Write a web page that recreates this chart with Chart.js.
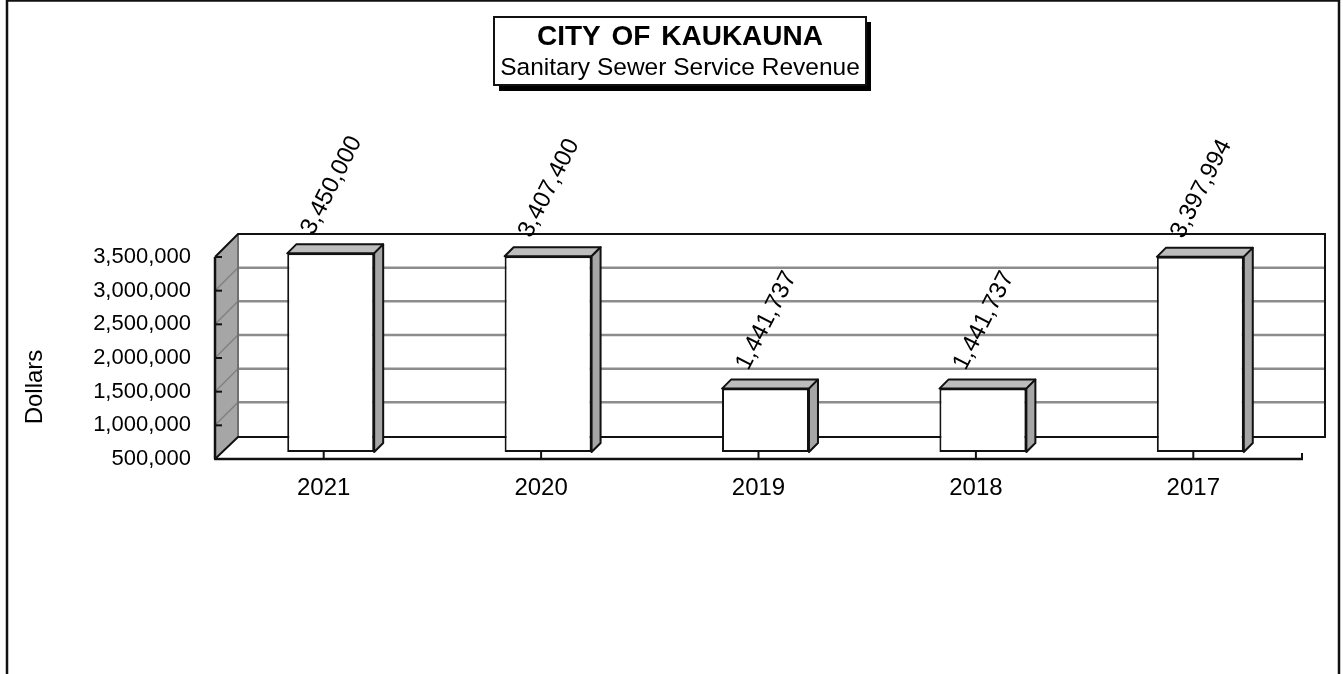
<!DOCTYPE html>
<html>
<head>
<meta charset="utf-8">
<title>City of Kaukauna</title>
<script src="https://cdn.jsdelivr.net/npm/chart.js@4"></script>
<style>
    html, body { margin: 0; padding: 0; background: #fff; overflow: hidden; }
    canvas { display: block; }
</style>
</head>
<body>
<canvas id="revenueChart" width="1343" height="674"></canvas>
<script>
const years = ['2021', '2020', '2019', '2018', '2017'];
const revenue = [3450000, 3407400, 1441737, 1441737, 3397994];
const axisMin = 500000;
const axisMax = 3500000;
const axisStep = 500000;
const titleLines = ['CITY OF KAUKAUNA', 'Sanitary Sewer Service Revenue'];
const axisTitle = 'Dollars';

const FONT = '"Liberation Sans", Arial, sans-serif';
const WALL_X = 23, WALL_Y = 22;   // depth of the back wall
const BAR_X = 7, BAR_Y = 7;       // bars sit a little behind the front edge
const BAR_DEPTH = 9;

function line(ctx, x1, y1, x2, y2, color, width) {
    ctx.strokeStyle = color;
    ctx.lineWidth = width;
    ctx.beginPath();
    ctx.moveTo(x1, y1);
    ctx.lineTo(x2, y2);
    ctx.stroke();
}

function poly(ctx, points, fill) {
    ctx.fillStyle = fill;
    ctx.strokeStyle = '#111';
    ctx.lineWidth = 2;
    ctx.lineJoin = 'round';
    ctx.beginPath();
    points.forEach((p, i) => i ? ctx.lineTo(p[0], p[1]) : ctx.moveTo(p[0], p[1]));
    ctx.closePath();
    ctx.fill();
    ctx.stroke();
}

// frame, title box, walls and gridlines go under the bars
const backdrop = {
    id: 'backdrop',
    beforeDatasetsDraw(chart) {
        const ctx = chart.ctx;
        const area = chart.chartArea;
        const y = chart.scales.y;
        const x = chart.scales.x;
        ctx.save();

        // outer frame, cut off at the bottom of the page
        ctx.strokeStyle = '#111';
        ctx.lineWidth = 2.5;
        ctx.beginPath();
        ctx.moveTo(7, 674);
        ctx.lineTo(7, 0.5);
        ctx.lineTo(1339, 0.5);
        ctx.lineTo(1339, 674);
        ctx.stroke();

        // title box with its drop shadow
        ctx.fillStyle = '#000';
        ctx.fillRect(499, 22, 372, 69);
        ctx.fillStyle = '#fff';
        ctx.fillRect(494, 17, 372, 68);
        ctx.strokeStyle = '#111';
        ctx.lineWidth = 2;
        ctx.strokeRect(494, 17, 372, 68);
        ctx.fillStyle = '#000';
        ctx.textAlign = 'center';
        ctx.textBaseline = 'middle';
        ctx.font = 'bold 28px ' + FONT;
        ctx.wordSpacing = '3px';
        ctx.fillText(titleLines[0], 680, 37);
        ctx.wordSpacing = '0px';
        ctx.font = '24.5px ' + FONT;
        ctx.fillText(titleLines[1], 680, 68);

        // left side wall
        ctx.fillStyle = '#a6a6a6';
        ctx.beginPath();
        ctx.moveTo(area.left, area.top);
        ctx.lineTo(area.left + WALL_X, area.top - WALL_Y - 1);
        ctx.lineTo(area.left + WALL_X, area.bottom - WALL_Y);
        ctx.lineTo(area.left, area.bottom);
        ctx.closePath();
        ctx.fill();

        // gridlines run across the side wall and the back wall
        y.ticks.forEach(t => {
            if (t.value === axisMin || t.value === axisMax) return;
            const py = y.getPixelForValue(t.value);
            line(ctx, area.left, py, area.left + WALL_X, py - WALL_Y - 1, '#808080', 1.5);
            line(ctx, area.left + WALL_X, py - WALL_Y - 1, area.right + WALL_X, py - WALL_Y - 1, '#8c8c8c', 2.5);
        });
        line(ctx, area.left + WALL_X, area.top - WALL_Y - 1, area.left + WALL_X, area.bottom - WALL_Y, '#707070', 2);

        // back wall outline
        ctx.strokeStyle = '#111';
        ctx.lineWidth = 2;
        ctx.beginPath();
        ctx.moveTo(area.left, area.top);
        ctx.lineTo(area.left + WALL_X, area.top - WALL_Y - 1);
        ctx.lineTo(area.right + WALL_X, area.top - WALL_Y - 1);
        ctx.lineTo(area.right + WALL_X, area.bottom - WALL_Y);
        ctx.lineTo(area.left + WALL_X, area.bottom - WALL_Y);
        ctx.lineTo(area.left, area.bottom);
        ctx.stroke();

        // front axis lines and ticks
        line(ctx, area.left, area.top, area.left, area.bottom, '#111', 2.5);
        line(ctx, area.left - 1, area.bottom, area.right + 1, area.bottom, '#111', 2.5);
        y.ticks.forEach(t => {
            const py = y.getPixelForValue(t.value);
            line(ctx, area.left, py, area.left + 7, py, '#111', 2);
        });
        x.ticks.forEach((t, i) => {
            const px = x.getPixelForTick(i);
            line(ctx, px, area.bottom, px, area.bottom - 7, '#111', 2);
        });
        line(ctx, area.right, area.bottom, area.right, area.bottom - 6, '#111', 2);

        // axis title
        ctx.translate(35, 387);
        ctx.rotate(-Math.PI / 2);
        ctx.fillStyle = '#000';
        ctx.font = '24px ' + FONT;
        ctx.fillText(axisTitle, 0, 0);
        ctx.restore();

        // the bars themselves are drawn shifted back a little
        ctx.save();
        ctx.translate(BAR_X, -BAR_Y);
    },
    afterDatasetsDraw(chart) {
        const ctx = chart.ctx;
        const meta = chart.getDatasetMeta(0);
        meta.data.forEach(bar => {
            const left = bar.x - bar.width / 2;
            const right = bar.x + bar.width / 2;
            const d = BAR_DEPTH;
            poly(ctx, [[left, bar.y], [left + d, bar.y - d], [right + d, bar.y - d], [right, bar.y]], '#bdbdbd');
            poly(ctx, [[right, bar.y], [right + d, bar.y - d], [right + d, bar.base - d], [right, bar.base]], '#a6a6a6');
        });
        ctx.restore();

        // value labels, slanted above each bar
        ctx.save();
        ctx.fillStyle = '#000';
        ctx.font = '24px ' + FONT;
        ctx.textAlign = 'center';
        ctx.textBaseline = 'middle';
        meta.data.forEach((bar, i) => {
            ctx.save();
            ctx.translate(bar.x + 8, bar.y - 75);
            ctx.rotate(-63 * Math.PI / 180);
            ctx.fillText(revenue[i].toLocaleString('en-US'), 0, 0);
            ctx.restore();
        });
        ctx.restore();
    }
};

new Chart(document.getElementById('revenueChart'), {
    type: 'bar',
    data: {
        labels: years,
        datasets: [{
            data: revenue,
            base: axisMin,
            clip: false,
            backgroundColor: '#fff',
            borderColor: '#111',
            borderWidth: 2,
            borderSkipped: false,
            barPercentage: 1,
            categoryPercentage: 0.4
        }]
    },
    options: {
        responsive: false,
        animation: false,
        layout: { padding: { top: 257, right: 41, bottom: 0, left: 0 } },
        plugins: { legend: { display: false }, tooltip: { enabled: false } },
        scales: {
            x: {
                grid: { display: false },
                border: { display: false },
                ticks: { color: '#000', font: { family: FONT, size: 24 }, padding: 7, maxRotation: 0 },
                afterFit(scale) { scale.height = 674 - 459; }
            },
            y: {
                min: axisMin,
                max: axisMax,
                grid: { display: false },
                border: { display: false },
                ticks: {
                    stepSize: axisStep,
                    color: '#000',
                    font: { family: FONT, size: 22 },
                    padding: 16,
                    callback: value => value.toLocaleString('en-US')
                },
                afterFit(scale) { scale.width = 215; }
            }
        }
    },
    plugins: [backdrop]
});
</script>
</body>
</html>
